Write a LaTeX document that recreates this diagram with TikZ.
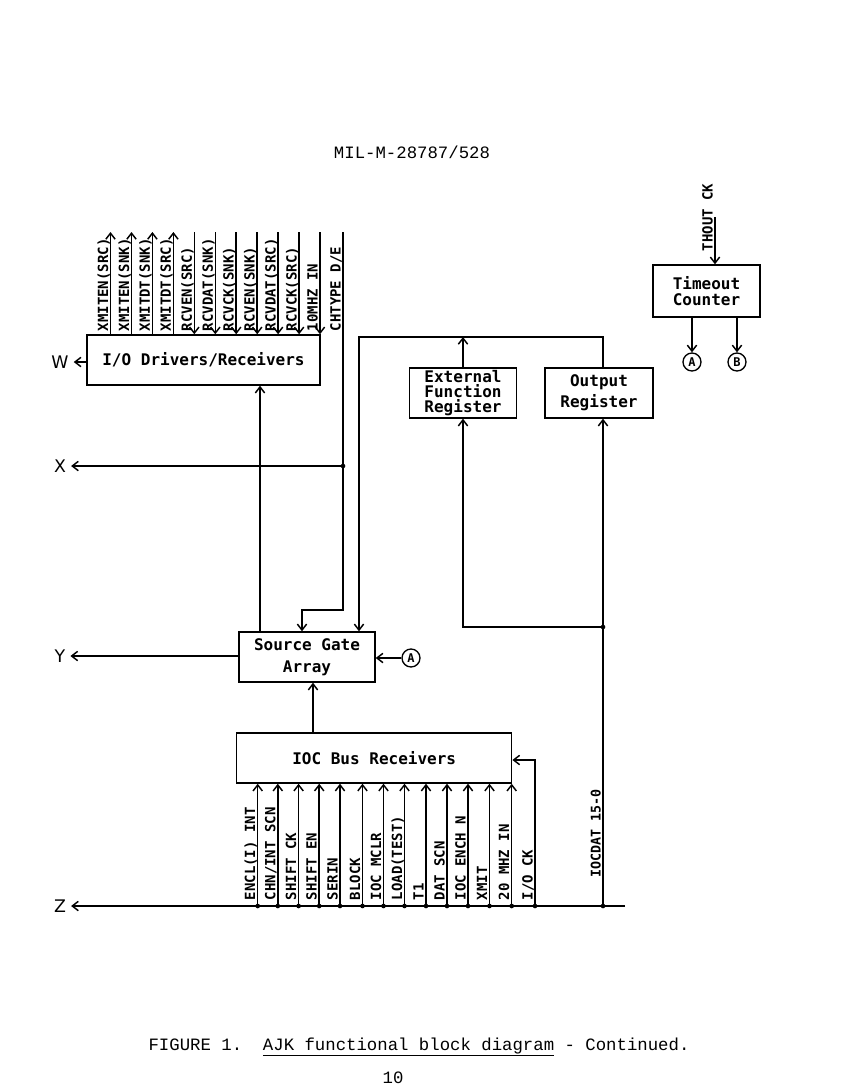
\documentclass[tikz,border=0pt]{standalone}
\usepackage{fontspec}
\usetikzlibrary{arrows.meta}
\newfontfamily\dvm{DejaVu Sans Mono}
\newfontfamily\dvmb{DejaVu Sans Mono Bold}
\newfontfamily\dvs{DejaVu Sans}
\newfontfamily\lmono{Liberation Mono}
\tikzset{
  box/.style={draw, inner sep=0pt, align=center, font=\dvmb\fontsize{12}{15}\selectfont},
  sig/.style={font=\dvmb\fontsize{10.5}{12}\selectfont, inner sep=0pt, rotate=90, anchor=base west},
  arr/.style={-{Straight Barb[length=4.5pt,width=7pt]}},
  side/.style={font=\dvs\fontsize{13}{15}\selectfont},
  circ/.style={draw, circle, minimum size=13.5pt, inner sep=0pt, font=\dvmb\fontsize{9}{10}\selectfont, line width=1pt},
  dot/.style={fill, circle, inner sep=0pt, minimum size=3.5pt}
}
\begin{document}
\begin{tikzpicture}[x=0.75pt,y=-0.75pt,line width=1.1pt]
\useasboundingbox (0,0) rectangle (856,1086);

% title
\node[font=\lmono\fontsize{13}{15}\selectfont] (title) at (412,152) {MIL-M-28787/528};

% boxes
\node[box, minimum width=174.75pt, minimum height=37.5pt] (io) at (203.5,360) {I/O Drivers/Receivers};
\node[box, minimum width=80.25pt, minimum height=37.5pt, font=\dvmb\fontsize{12}{11}\selectfont] (efr) at (463,393) {External\\Function\\Register};
\node[box, minimum width=81pt, minimum height=37.5pt, font=\dvmb\fontsize{12}{15.5}\selectfont] (outr) at (599,393) {Output\\Register};
\node[box, minimum width=80.25pt, minimum height=39pt, font=\dvmb\fontsize{12}{12.5}\selectfont] (tmo) at (706.5,291) {Timeout\\Counter};
\node[box, minimum width=102pt, minimum height=37.5pt, font=\dvmb\fontsize{12}{16.5}\selectfont] (sga) at (307,657) {Source Gate\\Array};
\node[box, minimum width=206.25pt, minimum height=37.5pt] (ioc) at (374.2,758) {IOC Bus Receivers};

% top signals (outputs)
\foreach \x/\t [count=\i] in {110.5/XMITEN(SRC),131.5/XMITEN(SNK),152.4/XMITDT(SNK),173.4/XMITDT(SRC)} {
  \coordinate (tu\i) at (\x,232);
  \draw[arr] (io.north -| tu\i) -- (tu\i);
  \node[sig] (tul\i) at (\x-2.5,332) {\t};
}
% top signals (inputs)
\foreach \x/\t [count=\i] in {194.3/RCVEN(SRC),215.3/RCVDAT(SNK),236.2/RCVCK(SNK),257.2/RCVEN(SNK),278.1/RCVDAT(SRC),299.1/RCVCK(SRC),320/10MHZ IN} {
  \coordinate (td\i) at (\x,232);
  \draw[arr] (td\i) -- (io.north -| td\i);
  \node[sig] (tdl\i) at (\x-2.5,332) {\t};
}

% CHTYPE D/E
\coordinate (ch) at (343,232);
\coordinate (chb) at (302,610);
\node[sig] (chl) at (340.5,332) {CHTYPE D/E};
\draw[arr] (ch) |- (chb) -- (sga.north -| chb);

% W, X, Y, Z
\node[side] (W) at (60,362) {W};
\draw[arr] (io.west |- W) -- (W);
\coordinate (xj) at (343,466);
\node[dot] (xjd) at (xj) {};
\node[side] (X) at (60,466) {X};
\draw[arr] (xj) -- (X);
\node[side] (Y) at (60,656) {Y};
\draw[arr] (sga.west |- Y) -- (Y);
\node[side] (Z) at (60,906) {Z};
\coordinate (zr) at (625,906);
\draw[arr] (zr) -- (Z);

% Source gate -> I/O drivers
\coordinate (c260) at (260,500);
\draw[arr] (sga.north -| c260) -- (io.south -| c260);

% register bus
\coordinate (bus) at (359,337);
\coordinate (oc) at (603,500);
\draw[arr] (outr.north -| oc) |- (bus) -- (sga.north -| bus);
\draw[arr] (efr.north) -- (efr.north |- bus);

% IOCDAT
\coordinate (iz) at (603,906);
\coordinate (ij) at (603,627);
\draw[arr] (iz) -- (outr.south -| iz);
\draw[arr] (ij) -| (efr.south);
\node[dot] (izd) at (iz) {};
\node[dot] (ijd) at (ij) {};
\node[sig, font=\dvmb\fontsize{10}{12}\selectfont] (iocdl) at (600.5,878) {IOCDAT 15-0};

% bottom signals
\foreach \x/\t [count=\i] in {257.7/{ENCL(I) INT},277.8/{CHN/INT SCN},298.6/SHIFT CK,319.2/SHIFT EN,340/SERIN,362.5/BLOCK,383.5/IOC MCLR,404.5/LOAD(TEST),426/T1,447/DAT SCN,468/IOC ENCH N,489.5/XMIT,511.7/20 MHZ IN} {
  \coordinate (b\i) at (\x,906);
  \draw[arr] (b\i) -- (ioc.south -| b\i);
  \node[dot] (bd\i) at (b\i) {};
  \node[sig] (bl\i) at (\x-2.5,901) {\t};
}
% I/O CK
\coordinate (ck) at (535,906);
\coordinate (ckt) at (535,760);
\draw[arr] (ck) -- (ckt) -- (ioc.east |- ckt);
\node[dot] (ckd) at (ck) {};
\node[sig] (ckl) at (532.5,901) {I/O CK};

% IOC -> source gate
\coordinate (c313) at (313,700);
\draw[arr] (ioc.north -| c313) -- (sga.south -| c313);

% A into source gate
\node[circ] (ca) at (411,658) {A};
\draw[arr] (ca) -- (sga.east |- ca);

% timeout counter
\coordinate (th) at (715,217);
\draw[arr] (th) -- (tmo.north -| th);
\node[sig] (thl) at (712.5,252) {THOUT CK};
\node[circ] (ta) at (692,362) {A};
\node[circ] (tb) at (737,362) {B};
\draw[arr] (tmo.south -| ta) -- (ta);
\draw[arr] (tmo.south -| tb) -- (tb);

% caption
\node[font=\lmono\fontsize{13}{15}\selectfont] (cap) at (419,1047) {FIGURE 1.\ \ \underline{AJK functional block diagram} - Continued.};
\node[font=\lmono\fontsize{13}{15}\selectfont] (pg) at (393,1078) {10};
\end{tikzpicture}
\end{document}
